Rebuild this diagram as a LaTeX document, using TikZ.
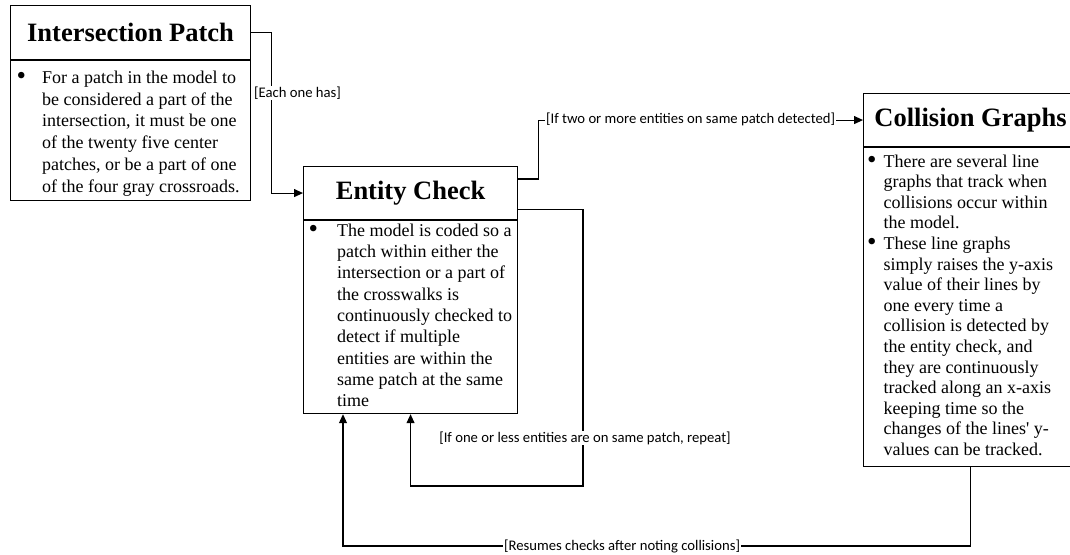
\documentclass[tikz,border=0pt]{standalone}
\usepackage{fontspec}
\setmainfont{Liberation Serif}
\newfontfamily\calibri{Carlito}
\usetikzlibrary{positioning,calc,arrows.meta}

\newcommand{\bigbullet}{\raisebox{-1.2pt}{\scalebox{1.5}{\textbullet}}}

\tikzset{
  headbox/.style={draw, line width=1.1pt, inner sep=0pt, anchor=north west,
    minimum height=54, font=\fontsize{26.5}{30}\selectfont\bfseries},
  bodybox/.style={draw, line width=1.1pt, inner sep=0pt, anchor=north west},
  bodytext/.style={inner sep=0pt, anchor=north west, font=\fontsize{18}{#1}\selectfont},
  flow/.style={line width=1.1pt, -{Triangle[length=9pt,width=8pt]}},
  edgelabel/.style={fill=white, inner sep=1pt, font=\calibri\fontsize{14.67}{17}\selectfont}
}

\begin{document}
\begin{tikzpicture}[x=1pt,y=-1pt]
 \useasboundingbox (0,0) rectangle (1070,554);

% Intersection Patch
 \node[headbox, minimum width=240] (patchHead) at (10,5) {Intersection Patch};
 \node[bodybox, minimum width=240, minimum height=140] (patchBody) at (patchHead.south west) {};
 \node[bodytext=21.8] (patchText) at ($(patchBody.north west)+(6.5,7.7)$) {%
  \begin{tabular}{@{}p{25.5pt}@{}l@{}}
   \bigbullet & For a patch in the model to\\
   & be considered a part of the\\
   & intersection, it must be one\\
   & of the twenty five center\\
   & patches, or be a part of one\\
   & of the four gray crossroads.
  \end{tabular}};

% Entity Check
 \node[headbox, minimum width=214, minimum height=53] (entityHead) at (303,166) {Entity Check};
 \node[bodybox, minimum width=214, minimum height=193] (entityBody) at (entityHead.south west) {};
 \node[bodytext=21.3] (entityText) at ($(entityBody.north west)+(5.5,1.1)$) {%
  \begin{tabular}{@{}p{28.5pt}@{}l@{}}
   \bigbullet & The model is coded so a\\
   & patch within either the\\
   & intersection or a part of\\
   & the crosswalks is\\
   & continuously checked to\\
   & detect if multiple\\
   & entities are within the\\
   & same patch at the same\\
   & time
  \end{tabular}};

% Collision Graphs (cut off at the right edge)
 \node[headbox, minimum width=214, minimum height=53] (collHead) at (863,93) {Collision Graphs};
 \node[bodybox, minimum width=214, minimum height=319] (collBody) at (collHead.south west) {};
 \node[bodytext=20.6] (collText) at ($(collBody.north west)+(4,5.3)$) {%
  \begin{tabular}{@{}p{16.5pt}@{}l@{}}
   \bigbullet & There are several line\\
   & graphs that track when\\
   & collisions occur within\\
   & the model.\\
   \bigbullet & These line graphs\\
   & simply raises the y-axis\\
   & value of their lines by\\
   & one every time a\\
   & collision is detected by\\
   & the entity check, and\\
   & they are continuously\\
   & tracked along an x-axis\\
   & keeping time so the\\
   & changes of the lines\textquotesingle\ y-\\
   & values can be tracked.
  \end{tabular}};

% connectors
 \draw[flow] (patchHead.east) -- ++(20,0) |- (entityHead.west);
 \draw[flow] ($(entityHead.north east)+(0,13)$) -- ++(20,0) |- (collHead.west);

 \coordinate (repeatCorner) at (583,486);
 \draw[flow] ($(entityHead.south east)+(0,-11)$) -| (repeatCorner) -| (entityBody.south);

 \coordinate (resumeCorner) at (343,546);
 \draw[flow] (collBody.south) |- (resumeCorner) -- (resumeCorner |- entityBody.south);

% labels sit on top of the lines
 \node[edgelabel, anchor=west] (eachLbl) at (253,93) {[Each one has]};
 \node[edgelabel, anchor=west] (twoLbl) at (545,119.5) {[If two or more entities on same patch detected]};
 \node[edgelabel] (repeatLbl) at (585,438) {[If one or less entities are on same patch, repeat]};
 \node[edgelabel, anchor=west] (resumeLbl) at (503,546) {[Resumes checks after noting collisions]};

\end{tikzpicture}
\end{document}
